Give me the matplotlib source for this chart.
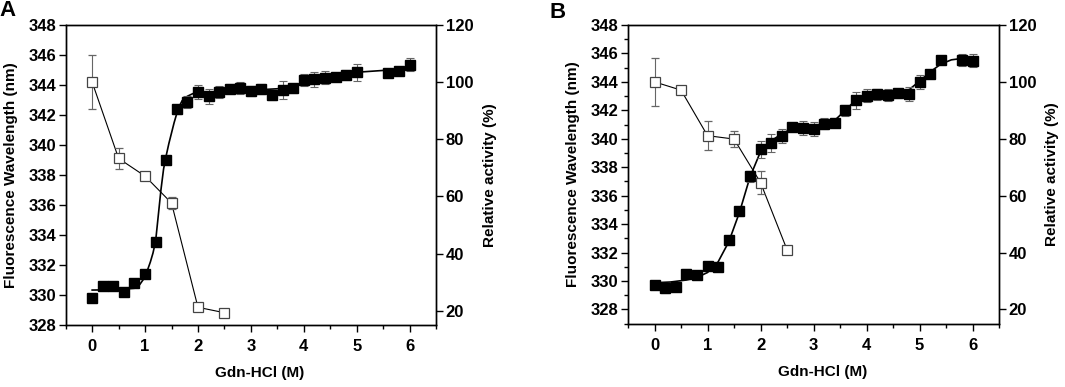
import numpy as np
import matplotlib
matplotlib.use("Agg")
import matplotlib.pyplot as plt
from matplotlib.ticker import MultipleLocator

plt.rcParams['font.family'] = ['Liberation Sans', 'DejaVu Sans']
plt.rcParams['font.weight'] = 'bold'

# ---- panel A : fluorescence wavelength (left axis) ----
a_gdn = [0, 0.2, 0.4, 0.6, 0.8, 1.0, 1.2, 1.4, 1.6, 1.8, 2.0, 2.2, 2.4, 2.6, 2.8,
         3.0, 3.2, 3.4, 3.6, 3.8, 4.0, 4.2, 4.4, 4.6, 4.8, 5.0, 5.6, 5.8, 6.0]
a_wave = [329.83, 330.57, 330.57, 330.21, 330.79, 331.37, 333.54, 339.0, 342.37, 342.88,
          343.53, 343.26, 343.53, 343.75, 343.82, 343.6, 343.75, 343.35, 343.69, 343.8,
          344.34, 344.38, 344.5, 344.56, 344.67, 344.85, 344.8, 344.92, 345.36]
a_wave_err = [0.05, 0.05, 0.05, 0.05, 0.05, 0.1, 0.1, 0.25, 0.3, 0.4,
              0.45, 0.5, 0.4, 0.3, 0.4, 0.35, 0.35, 0.35, 0.6, 0.3,
              0.4, 0.5, 0.45, 0.25, 0.35, 0.55, 0.1, 0.2, 0.45]
# fitted curve
a_fit_x = [0, 0.4, 0.8, 0.9, 1.0, 1.1, 1.15, 1.2, 1.25, 1.3, 1.35, 1.4, 1.45, 1.5, 1.55,
           1.6, 1.65, 1.7, 1.8, 1.9, 2.0, 2.5, 3.0, 3.5, 3.8, 4.0, 4.2, 4.5, 5.0, 5.5, 6.0]
a_fit_y = [330.33, 330.35, 330.45, 330.7, 331.2, 332.2, 332.8, 333.6, 335.3, 337.0, 338.4,
           339.3, 340.1, 340.8, 341.5, 342.1, 342.6, 342.95, 343.25, 343.42, 343.48,
           343.55, 343.65, 343.75, 343.88, 344.1, 344.4, 344.65, 344.85, 344.97, 345.05]
# relative activity (right axis)
a_act_x = [0, 0.5, 1.0, 1.5, 2.0, 2.5]
a_act = [100, 73.3, 67.1, 57.7, 21.2, 19.3]
a_act_err = [9.5, 3.8, 0.8, 2.2, 0.8, 0.8]

# ---- panel B ----
b_gdn = [0, 0.2, 0.4, 0.6, 0.8, 1.0, 1.2, 1.4, 1.6, 1.8, 2.0, 2.2, 2.4, 2.6, 2.8,
         3.0, 3.2, 3.4, 3.6, 3.8, 4.0, 4.2, 4.4, 4.6, 4.8, 5.0, 5.2, 5.4, 5.8, 6.0]
b_wave = [329.72, 329.49, 329.6, 330.5, 330.4, 331.09, 331.02, 332.86, 334.89, 337.36,
          339.25, 339.72, 340.22, 340.83, 340.74, 340.71, 341.07, 341.11, 341.99, 342.72,
          343.02, 343.12, 343.07, 343.19, 343.17, 344.01, 344.56, 345.52, 345.55, 345.5]
b_wave_err = [0.3, 0.35, 0.1, 0.35, 0.1, 0.2, 0.2, 0.3, 0.3, 0.4,
              0.6, 0.65, 0.5, 0.3, 0.5, 0.5, 0.4, 0.1, 0.4, 0.6,
              0.45, 0.4, 0.4, 0.3, 0.5, 0.5, 0.1, 0.1, 0.4, 0.45]
b_fit_x = [0, 0.3, 0.6, 0.8, 1.0, 1.2, 1.4, 1.6, 1.8, 2.0, 2.2, 2.4, 2.6, 2.8, 3.0,
           3.2, 3.4, 3.6, 3.8, 4.0, 4.2, 4.4, 4.6, 4.8, 5.0, 5.2, 5.4, 5.6, 5.8, 6.0]
b_fit_y = [329.88, 329.93, 330.07, 330.25, 330.6, 331.35, 332.75, 334.8, 337.3, 339.1,
           339.85, 340.35, 340.72, 340.88, 340.93, 341.05, 341.3, 342.0, 342.75, 343.05,
           343.13, 343.17, 343.22, 343.45, 344.05, 344.7, 345.25, 345.55, 345.65, 345.66]
b_act_x = [0, 0.5, 1.0, 1.5, 2.0, 2.5]
b_act = [100, 97.1, 81.1, 79.9, 64.6, 41.0]
b_act_err = [8.3, 1.0, 5.0, 2.8, 4.0, 0.8]

xticks = [0, 1, 2, 3, 4, 5, 6]
x_label = "Gdn-HCl (M)"
left_label = "Fluorescence Wavelength (nm)"
right_label = "Relative activity (%)"

fig = plt.figure(figsize=(10.65, 3.87), dpi=100)
fs_tick = 12
fs_lab = 11
ecol = '#666666'


def panel(rect, gx, wave, werr, fx, fy, ax_x, act, aerr, ylim, letter, letter_pos,
          left_minor, lab_x):
    ax = fig.add_axes(rect)
    ax.plot(fx, fy, color='black', lw=1.2, zorder=2)
    ax.errorbar(gx, wave, yerr=werr, fmt='s', color='black', ms=6.5, ecolor=ecol,
                elinewidth=0.8, capsize=2.8, capthick=0.8, zorder=3)
    ax.set_xlim(-0.5, 6.5)
    ax.set_ylim(*ylim)
    ax.set_xticks(xticks)
    ax.xaxis.set_minor_locator(MultipleLocator(0.5))
    ax.set_yticks(np.arange(328, 349, 2))
    if left_minor:
        ax.yaxis.set_minor_locator(MultipleLocator(1))
    ax.tick_params(which='major', direction='out', length=5, width=1, labelsize=fs_tick, pad=2)
    ax.tick_params(which='minor', direction='out', length=3, width=1)
    ax.tick_params(axis='x', pad=5)
    for s in ax.spines.values():
        s.set_linewidth(1.0)
    ax.set_xlabel(x_label, fontsize=fs_lab, fontweight='bold')
    ax.xaxis.set_label_coords(0.525, -0.137)
    ax.set_ylabel(left_label, fontsize=fs_lab, fontweight='bold')
    ax.yaxis.set_label_coords(lab_x[0], 0.5)

    ax2 = ax.twinx()
    ax2.plot(ax_x, act, color='black', lw=0.8, zorder=2)
    ax2.errorbar(ax_x, act, yerr=aerr, fmt='s', mfc='white', mec='#444444', mew=0.9,
                 ms=6.5, ecolor=ecol, elinewidth=0.8, capsize=2.8, capthick=0.8, zorder=3)
    ax2.set_ylim(15, 120)
    ax2.set_yticks([20, 40, 60, 80, 100, 120])
    ax2.tick_params(direction='out', length=5, width=1, labelsize=fs_tick, pad=2)
    ax2.set_ylabel(right_label, fontsize=fs_lab, fontweight='bold')
    ax2.yaxis.set_label_coords(lab_x[1], 0.5)
    for s in ax2.spines.values():
        s.set_linewidth(1.0)
    fig.text(letter_pos[0], letter_pos[1], letter, fontsize=16, fontweight='bold',
             ha='center', va='center')
    return ax, ax2


panel([0.0617, 0.1602, 0.3477, 0.7752], a_gdn, a_wave, a_wave_err, a_fit_x, a_fit_y,
      a_act_x, a_act, a_act_err, (328, 348), 'A', (8 / 1065, 1 - 11 / 387), False,
      (-0.1275, 1.128))
panel([0.5897, 0.1636, 0.3484, 0.7718], b_gdn, b_wave, b_wave_err, b_fit_x, b_fit_y,
      b_act_x, b_act, b_act_err, (327, 348), 'B', (558 / 1065, 1 - 13 / 387), True,
      (-0.1307, 1.124))

fig.savefig("out.png", dpi=100)
